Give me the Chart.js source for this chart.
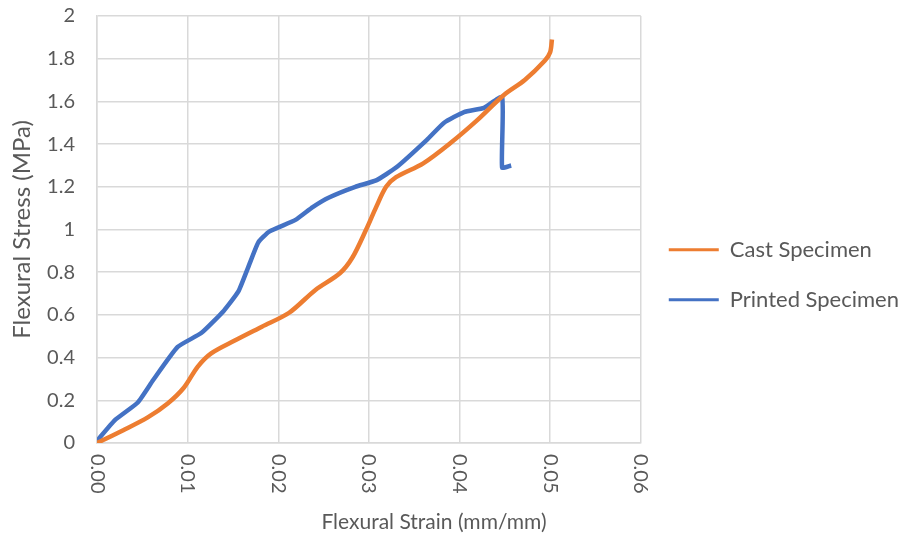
<!DOCTYPE html>
<html lang="en">
<head>
    <meta charset="UTF-8">
    <title>Flexural Stress vs Strain</title>
    <script src="https://cdn.jsdelivr.net/npm/chart.js@4.4.0/dist/chart.umd.min.js"></script>
    <style>
        html, body { margin: 0; padding: 0; background: #fff; }
        #wrap { width: 909px; height: 546px; }
    </style>
</head>
<body>
    <div id="wrap"><canvas id="myChart"></canvas></div>

    <script>
        // data
        const castStrain = [0, 0.0029, 0.0056, 0.0078, 0.0096, 0.0111, 0.0126, 0.0152, 0.0182, 0.0212,
            0.0241, 0.0268, 0.0282, 0.0297, 0.0308, 0.0319, 0.0330, 0.0360, 0.0390, 0.0419,
            0.0449, 0.0472, 0.0494, 0.0500, 0.0502];
        const castStress = [0, 0.06, 0.12, 0.185, 0.26, 0.357, 0.42, 0.48, 0.545, 0.61,
            0.717, 0.795, 0.87, 1.0, 1.105, 1.2, 1.245, 1.31, 1.405, 1.51,
            1.63, 1.70, 1.79, 1.83, 1.89];

        const printedStrain = [0, 0.0020, 0.0045, 0.0062, 0.0089, 0.0115, 0.0140, 0.0156, 0.0167, 0.0178,
            0.0190, 0.0219, 0.0238, 0.0256, 0.0285, 0.0308, 0.0330, 0.0364, 0.0383, 0.0405,
            0.0427, 0.0447, 0.0447, 0.0457];
        const printedStress = [0.01, 0.108, 0.19, 0.295, 0.45, 0.515, 0.62, 0.71, 0.825, 0.94,
            0.99, 1.045, 1.105, 1.15, 1.20, 1.23, 1.29, 1.42, 1.50, 1.55,
            1.57, 1.62, 1.29, 1.30];

        const xTicks = [0, 0.01, 0.02, 0.03, 0.04, 0.05, 0.06];
        const labelColor = '#595959';
        const fontName = 'Lato, "Open Sans", sans-serif';

        function toPoints(xs, ys) {
            return xs.map((x, i) => ({ x: x, y: ys[i] }));
        }

        // x tick labels run top-to-bottom in the original, and the axis title sits off-centre
        const xLabels = {
            id: 'xLabels',
            afterDraw(chart) {
                const sx = chart.scales.x;
                const ctx = chart.ctx;
                ctx.save();
                ctx.fillStyle = labelColor;
                ctx.font = '20px ' + fontName;
                xTicks.forEach(v => {
                    const px = sx.getPixelForValue(v);
                    ctx.save();
                    ctx.translate(px, sx.top + 11);
                    ctx.rotate(Math.PI / 2);
                    ctx.textAlign = 'left';
                    ctx.textBaseline = 'middle';
                    ctx.fillText(v.toFixed(2), 0, 0);
                    ctx.restore();
                });
                ctx.font = '21px ' + fontName;
                ctx.textAlign = 'center';
                ctx.textBaseline = 'middle';
                ctx.fillText('Flexural Strain (mm/mm)', 434, 522);
                ctx.restore();
            }
        };

        function drawChart() {
            const ctx = document.getElementById('myChart').getContext('2d');
            const myChart = new Chart(ctx, {
                type: 'scatter',
                data: {
                    datasets: [{
                        label: 'Cast Specimen',
                        data: toPoints(castStrain, castStress),
                        borderColor: '#ED7D31',
                        backgroundColor: '#ED7D31',
                        borderWidth: 4.5,
                        showLine: true,
                        pointRadius: 0,
                        tension: 0.3
                    }, {
                        label: 'Printed Specimen',
                        data: toPoints(printedStrain, printedStress),
                        borderColor: '#4472C4',
                        backgroundColor: '#4472C4',
                        borderWidth: 4.5,
                        showLine: true,
                        pointRadius: 0,
                        tension: 0.15
                    }]
                },
                options: {
                    responsive: true,
                    maintainAspectRatio: false,
                    animation: false,
                    layout: { padding: { top: 4, bottom: 103, left: 8, right: 0 } },
                    plugins: {
                        tooltip: { enabled: false },
                        legend: {
                            position: 'right',
                            maxWidth: 320,
                            // empty title only pushes the two items down to where they sit in the original
                            title: { display: true, text: '', padding: { top: 0, bottom: 88 } },
                            labels: {
                                boxWidth: 50,
                                boxHeight: 3,
                                padding: 28,
                                color: labelColor,
                                font: { family: fontName, size: 22 },
                                // thin legend line, no outline
                                generateLabels: chart => Chart.defaults.plugins.legend.labels
                                    .generateLabels(chart).map(l => Object.assign(l, { lineWidth: 0 }))
                            }
                        }
                    },
                    scales: {
                        x: {
                            type: 'linear',
                            min: 0,
                            max: 0.06,
                            ticks: { display: false, stepSize: 0.01 },
                            grid: { color: '#d9d9d9', lineWidth: 1.5, drawTicks: false },
                            border: { color: '#d9d9d9', width: 1.5 }
                        },
                        y: {
                            min: 0,
                            max: 2,
                            afterFit(scale) {
                                scale.width = 89;
                                scale.paddingTop = 16;
                            },
                            ticks: {
                                stepSize: 0.2,
                                padding: 22,
                                color: labelColor,
                                font: { family: fontName, size: 20 },
                                callback: v => String(Number(v.toFixed(1)))
                            },
                            grid: { color: '#d9d9d9', lineWidth: 1.5, drawTicks: false },
                            border: { color: '#d9d9d9', width: 1.5 },
                            title: {
                                display: true,
                                text: 'Flexural Stress (MPa)',
                                color: labelColor,
                                font: { family: fontName, size: 24 },
                                padding: { top: 0, bottom: 8 }
                            }
                        }
                    }
                },
                plugins: [xLabels]
            });
        }

        // make sure the local font is ready before Chart.js measures text
        if (document.fonts && document.fonts.load) {
            Promise.all([
                document.fonts.load('20px Lato'),
                document.fonts.load('22px Lato')
            ]).then(drawChart, drawChart);
        } else {
            drawChart();
        }
    </script>
</body>
</html>
